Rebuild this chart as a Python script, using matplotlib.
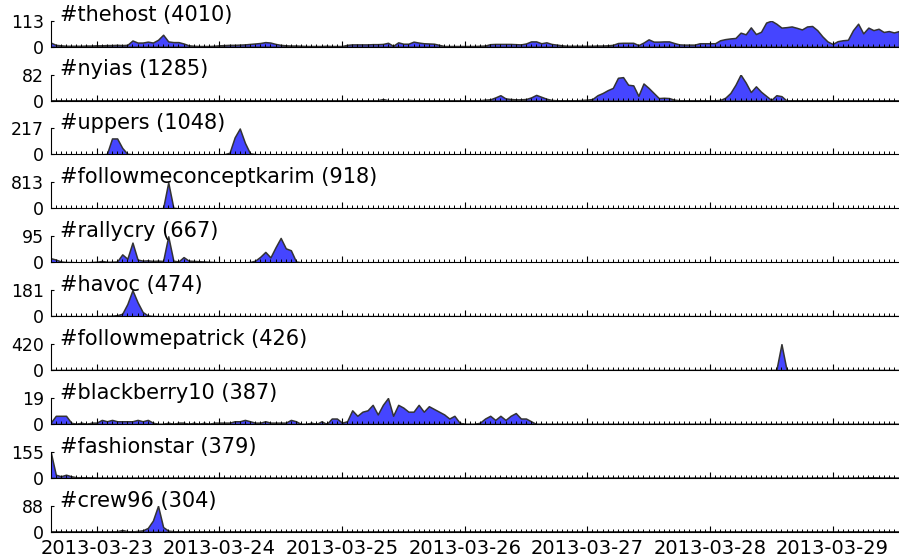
import numpy as np
import pandas as pd
import matplotlib
matplotlib.use('Agg')
import matplotlib.pyplot as plt
import matplotlib.dates as mdates

# hourly counts from 2013-03-22 15:00 to 2013-03-29 13:00 (167 hours)
start = '2013-03-22 15:00'

tags = ['#thehost', '#nyias', '#uppers', '#followmeconceptkarim', '#rallycry',
        '#havoc', '#followmepatrick', '#blackberry10', '#fashionstar', '#crew96']
totals = [4010, 1285, 1048, 918, 667, 474, 426, 387, 379, 304]

thehost = [18, 8, 6, 4, 4, 4, 4, 5, 5,
           6, 6, 7, 7, 8, 7, 8, 27, 18, 18, 22, 18, 30, 52, 23, 20, 20, 14, 6, 4, 3, 3, 3, 4,
           6, 7, 8, 8, 9, 10, 12, 14, 16, 20, 18, 12, 8, 6, 5, 5, 4, 3, 3, 3, 3, 4, 3, 3,
           3, 8, 10, 10, 10, 10, 11, 11, 12, 17, 4, 19, 13, 13, 22, 18, 15, 14, 13, 8, 3, 3, 3, 3,
           3, 3, 3, 4, 5, 11, 12, 12, 12, 12, 11, 10, 14, 23, 23, 15, 19, 12, 9, 6, 4, 4, 4, 4,
           4, 4, 5, 5, 6, 8, 16, 17, 17, 17, 7, 18, 32, 22, 22, 23, 23, 16, 10, 9, 9, 9, 15, 15,
           15, 15, 28, 33, 36, 38, 61, 54, 84, 55, 65, 105, 113, 100, 83, 85, 88, 82, 75, 88, 90, 72, 45, 23,
           12, 24, 28, 30, 72, 100, 58, 83, 72, 78, 64, 68, 62, 68]

nyias = [0, 0, 0, 0, 0, 0, 0, 0, 0,
         0, 0, 0, 0, 0, 0, 0, 0, 1, 0, 0, 0, 0, 0, 0, 0, 0, 0, 0, 0, 0, 0, 0, 0,
         0, 0, 0, 0, 0, 0, 0, 0, 0, 0, 0, 0, 0, 0, 0, 0, 0, 0, 0, 0, 0, 0, 1, 0,
         0, 0, 0, 0, 0, 0, 0, 1, 5, 1, 0, 0, 0, 2, 1, 0, 0, 0, 0, 0, 0, 0, 0, 0,
         0, 0, 0, 1, 3, 4, 10, 17, 7, 5, 4, 4, 5, 10, 18, 12, 6, 2, 1, 1, 1, 1, 1, 2,
         3, 5, 17, 24, 33, 40, 72, 74, 50, 48, 15, 54, 40, 24, 8, 9, 8, 3, 1, 1, 0, 0, 1, 1,
         1, 1, 2, 9, 24, 50, 82, 57, 27, 45, 28, 15, 2, 17, 14, 0, 0, 0, 0, 0, 0, 0, 0, 0,
         0, 0, 0, 0, 0, 0, 0, 0, 0, 0, 0, 0, 0, 0]

uppers = [0, 0, 0, 0, 0, 0, 0, 0, 0,
          0, 1, 5, 134, 134, 55, 6, 1, 0, 0, 0, 0, 0, 0, 0, 0, 0, 0, 0, 0, 0, 0, 0, 0,
          0, 2, 15, 143, 217, 98, 10, 3, 0, 0, 0, 0, 0, 0, 0, 0, 0, 0, 0, 0, 0, 0, 0, 0,
          0, 0, 0, 0, 0, 0, 0, 0, 0, 0, 0, 0, 0, 0, 0, 0, 0, 0, 0, 0, 0, 0, 0, 0,
          0, 0, 0, 0, 0, 0, 0, 0, 0, 0, 0, 0, 2, 0, 0, 0, 0, 0, 0, 0, 0, 0, 0, 0,
          0, 0, 0, 0, 0, 0, 0, 0, 0, 0, 0, 0, 0, 0, 0, 0, 0, 0, 0, 0, 0, 0, 0, 0,
          0, 0, 0, 0, 0, 0, 0, 0, 0, 0, 0, 0, 0, 0, 0, 0, 0, 0, 0, 0, 0, 0, 0, 0,
          0, 0, 0, 0, 0, 0, 0, 0, 0, 0, 0, 0, 0, 0]

followmeconceptkarim = [0, 0, 0, 0, 0, 0, 0, 0, 0,
                        0, 0, 0, 0, 0, 0, 0, 0, 0, 0, 0, 0, 0, 10, 813, 20, 0, 0, 0, 0, 0, 0, 0, 0] + [0] * 134

rallycry = [15, 10, 3, 1, 1, 0, 0, 0, 1,
            2, 5, 2, 2, 3, 29, 13, 72, 10, 6, 7, 5, 6, 5, 95, 6, 3, 19, 6, 5, 4, 3, 2, 1,
            0, 0, 0, 0, 0, 0, 1, 6, 20, 38, 18, 55, 89, 51, 44, 3, 0, 0, 0, 0, 0, 0, 0, 0] + [0] * 110

havoc = [0, 0, 0, 0, 0, 0, 0, 0, 0,
         0, 1, 2, 3, 7, 17, 85, 181, 97, 29, 5, 1, 0, 0, 0, 0, 0, 0, 0, 0, 0, 0, 0, 0] + [0] * 134

followmepatrick = [0] * 142 + [2, 420, 3] + [0] * 22

blackberry10 = [1, 6, 6, 6, 1, 0, 1, 0, 1,
                1, 3, 2, 3, 2, 2, 2, 2, 3, 2, 3, 1, 0, 0, 1, 0, 1, 1, 0, 1, 0, 1, 0, 1,
                1, 1, 1, 2, 2, 3, 2, 1, 1, 2, 1, 1, 1, 1, 3, 2, 0, 0, 1, 0, 2, 0, 4, 4,
                1, 2, 10, 6, 9, 10, 14, 7, 14, 19, 6, 14, 12, 9, 9, 14, 9, 13, 11, 9, 7, 4, 6, 1,
                0, 0, 0, 1, 4, 6, 3, 6, 3, 6, 8, 4, 4, 2, 0, 0, 0, 0, 0, 0, 0, 0, 0, 0] + [0] * 62

fashionstar = [155, 19, 10, 19, 10, 4, 4, 2, 1] + [0] * 79 + [1, 1] + [0] * 60 + \
              [1, 0, 0, 0, 0, 0, 0, 0, 1, 0, 2, 2, 1, 0, 1, 0, 0]

crew96 = [0, 0, 0, 0, 0, 0, 0, 0, 0,
          0, 0, 0, 0, 2, 6, 2, 1, 3, 5, 13, 38, 88, 16, 4, 2, 0, 0, 0, 0, 0, 0, 0, 0] + \
         [0] * 53 + [1, 2, 1, 0, 1] + [0] * 66 + [1] + [0] * 9

series = [thehost, nyias, uppers, followmeconceptkarim, rallycry,
          havoc, followmepatrick, blackberry10, fashionstar, crew96]

times = pd.date_range(start, periods=len(thehost), freq='h')

fig = plt.figure(figsize=(8.99, 5.57), dpi=100)
W, H = 899.0, 557.0
left = 50.7 / W
ax_h = 26.0 / H

for i, (tag, total, vals) in enumerate(zip(tags, totals, series)):
    base = 46.7 + i * 53.9
    ax = fig.add_axes([left, 1 - base / H, 1 - left, ax_h])
    vals = np.array(vals)
    ax.fill_between(times, 0, vals, facecolor='#4545ff', edgecolor='#333333',
                    linewidth=1.1)
    ymax = vals.max()
    ax.set_ylim(0, ymax)
    ax.set_yticks([0, ymax])
    ax.set_xlim(times[0], times[-1])
    ax.xaxis.set_major_locator(mdates.DayLocator())
    ax.xaxis.set_minor_locator(mdates.HourLocator())
    ax.xaxis.set_major_formatter(mdates.DateFormatter('%Y-%m-%d'))
    for s in ['top', 'right']:
        ax.spines[s].set_visible(False)
    ax.tick_params(axis='x', which='major', direction='in', length=4.5, width=0.8,
                   labelsize=14, pad=5.5, top=False)
    ax.tick_params(axis='x', which='minor', direction='in', length=2.2, width=0.7,
                   top=False)
    ax.tick_params(axis='y', direction='in', length=2.5, width=0.8,
                   labelsize=12.5, pad=5, right=False)
    if i < len(tags) - 1:
        ax.tick_params(axis='x', which='both', labelbottom=False)
    ax.text(0.011, 0.97, '%s (%d)' % (tag, total), transform=ax.transAxes,
            fontsize=15, va='baseline', ha='left')

fig.savefig('out.png', dpi=100)
